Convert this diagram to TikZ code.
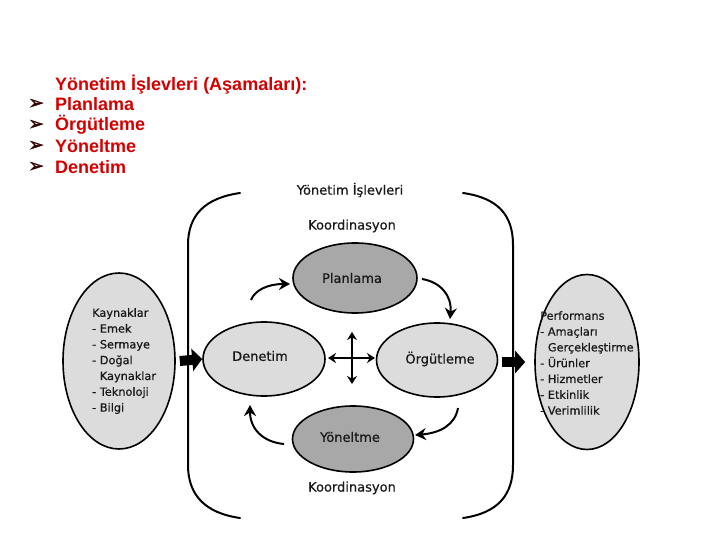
\documentclass[tikz,border=0pt]{standalone}
\usepackage{fontspec}
\setmainfont{DejaVu Sans}[FakeBold=0.6]
\newfontfamily\redfont{Liberation Sans}
\newfontfamily\symfont{DejaVu Sans}[FakeBold=1.5]
\usetikzlibrary{arrows.meta,shapes.geometric,calc}
\definecolor{titlered}{RGB}{212,0,0}
\definecolor{lightfill}{RGB}{220,220,220}
\definecolor{darkfill}{RGB}{168,168,168}
\definecolor{txt}{RGB}{25,25,25}
\tikzset{
  redline/.style={anchor=west,text=titlered,font=\redfont\bfseries\fontsize{18}{20}\selectfont,inner sep=0pt},
  bulletmark/.style={anchor=west,font=\symfont\fontsize{19}{21}\selectfont,inner sep=0pt,text=black!80!red},
  oval/.style={ellipse,draw=black,line width=1.6pt,inner sep=0pt},
  lightoval/.style={oval,fill=lightfill},
  darkoval/.style={oval,fill=darkfill},
  lbl/.style={text=txt,font=\fontsize{13}{15}\selectfont,inner sep=0pt},
  listtxt/.style={text=txt,font=\fontsize{11.3}{15.8}\selectfont,align=left,inner sep=0pt,anchor=north west},
  bracket/.style={line width=2pt,line cap=round},
  cyc/.style={line width=2pt,-{Stealth[length=11pt,width=12pt]}},
  blockarrow/.style={line width=10pt,-{Triangle[length=10pt,width=22pt]}},
}
\begin{document}
\begin{tikzpicture}[x=1pt,y=-1pt]
\useasboundingbox (0,0) rectangle (720,540);
% title list
\node[redline] (t0) at (55,85) {Yönetim İşlevleri (Aşamaları):};
\node[redline] (t1) at (55,104) {Planlama};
\node[redline] (t2) at (55,125) {Örgütleme};
\node[redline] (t3) at (55,146) {Yöneltme};
\node[redline] (t4) at (55,167) {Denetim};
\node[bulletmark] (b1) at (28,104) {➢};
\node[bulletmark] (b2) at (28,125) {➢};
\node[bulletmark] (b3) at (28,146) {➢};
\node[bulletmark] (b4) at (28,167) {➢};
% brackets
\draw[bracket] (240,193) .. controls (205,198) and (188,215) .. (188,245) -- (188,465) .. controls (188,495) and (205,513) .. (240,518);
\draw[bracket] (463,193) .. controls (498,198) and (513,215) .. (513,245) -- (513,465) .. controls (513,495) and (498,513) .. (463,518);
% labels
\node[lbl] (title) at (350,190) {Yönetim İşlevleri};
\node[lbl] (koor1) at (352,226) {Koordinasyon};
\node[lbl] (koor2) at (352,488) {Koordinasyon};
% ellipses
\node[darkoval,minimum width=124pt,minimum height=70pt] (plan) at (355,278) {};
\node[lightoval,minimum width=122pt,minimum height=74pt] (den) at (264,359) {};
\node[lightoval,minimum width=121pt,minimum height=74pt] (org) at (437,360) {};
\node[darkoval,minimum width=121pt,minimum height=66pt] (yon) at (353,439) {};
\node[lightoval,minimum width=112pt,minimum height=176pt] (kay) at (119,361) {};
\node[lightoval,minimum width=104pt,minimum height=175pt] (perf) at (587,362) {};
\node[lbl] at (352,278) {Planlama};
\node[lbl] at (260,356) {Denetim};
\node[lbl] at (440,359) {Örgütleme};
\node[lbl] at (350,437) {Yöneltme};
\node[listtxt] (kaytxt) at (92,308) {Kaynaklar\\- Emek\\- Sermaye\\- Doğal\\\phantom{- }Kaynaklar\\- Teknoloji\\- Bilgi};
\node[listtxt] (perftxt) at (540,311) {Performans\\- Amaçları\\\phantom{- }Gerçekleştirme\\- Ürünler\\- Hizmetler\\- Etkinlik\\- Verimlilik};
% block arrows
\draw[blockarrow] ($(kay.east)+(4,0)$) -- (den.west);
\draw[blockarrow] ($(org.east)+(4,2)$) -- ($(perf.west)+(-9,0)$);
% cross
\coordinate (cc) at (352,358);
\draw[line width=2pt,{Stealth[length=8pt,width=10pt]}-{Stealth[length=8pt,width=10pt]}] (328,358) -- (375,358);
\draw[line width=2pt,{Stealth[length=8pt,width=10pt]}-{Stealth[length=8pt,width=10pt]}] (352,332) -- (352,384);
% cycle arrows
\coordinate (c1) at (251,300);
\coordinate (c2) at (422,279);
\coordinate (c3) at (458,408);
\coordinate (c4) at (284,444);
\draw[cyc] (c1) .. controls (255,290) and (268,284) .. (290,284);
\draw[cyc] (c2) .. controls (440,282) and (452,295) .. (450,319);
\draw[cyc] (c3) .. controls (455,425) and (440,433) .. (415,435);
\draw[cyc] (c4) .. controls (262,442) and (250,428) .. (250,405);
\end{tikzpicture}
\end{document}
